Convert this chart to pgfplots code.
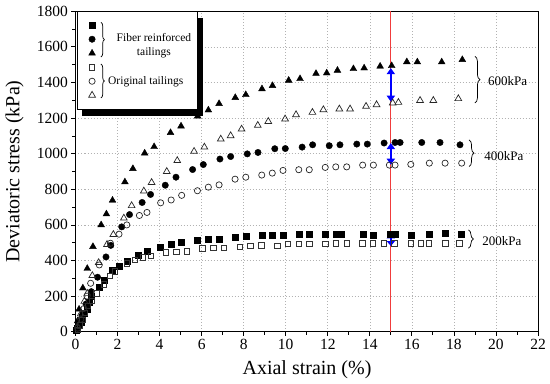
\documentclass[border=0pt]{standalone}
\usepackage{fontspec}
\setmainfont{Liberation Serif}
\usepackage{pgfplots}
\pgfplotsset{compat=1.18}
\usetikzlibrary{decorations.pathreplacing,arrows.meta}
\definecolor{redline}{RGB}{240,60,60}
\begin{document}
\begin{tikzpicture}
\begin{axis}[
 scale only axis, width=462.5pt, height=320.4pt,
 xmin=0,xmax=22,ymin=0,ymax=1800,
 xtick={0,2,...,22}, ytick={0,200,...,1800},
 minor x tick num=1, minor y tick num=1,
 tick align=outside, xtick pos=left, ytick pos=left,
 major tick length=4pt, minor tick length=3pt,
 grid=major, major grid style={gray!60, dash pattern=on 1pt off 2pt, line width=0.6pt},
 axis line style={line width=1pt}, tick style={black, line width=0.8pt},
 ticklabel style={font=\fontsize{15.5}{16}\selectfont},
 /pgf/number format/assume math mode=true,
 /pgf/number format/1000 sep={},
 xlabel={Axial strain (\%)}, ylabel={Deviatoric stress (kPa)},
 label style={font=\fontsize{20}{22}\selectfont},
 xlabel style={at={(axis description cs:0.5005,-0.1195)}, anchor=center},
 ylabel style={at={(axis description cs:-0.132,0.5)}, anchor=center},
 legend style={draw=none, fill=none, at={(axis description cs:0.0281,0.979)}, anchor=north west,
   inner sep=0pt, row sep=0pt, nodes={inner sep=0pt, minimum height=14pt}},
 legend image code/.code={\draw[#1] plot coordinates {(0pt,0pt)};},
]
% legend frame with shadow
\fill[black] ([xshift=5.5pt,yshift=-6pt]axis cs:0.071,1798) rectangle ([xshift=5.5pt,yshift=-6pt]axis cs:5.78,1247);
\draw[fill=white, line width=0.8pt] (axis cs:0.071,1798) rectangle (axis cs:5.78,1247);

\addplot[only marks, mark=square*, mark size=3pt, black] coordinates {
(0.05,8)(0.1,18)(0.18,35)(0.25,55)(0.32,80)(0.4,105)(0.56,128)(0.65,165)(0.75,200)
(1.12,248)(1.37,291)(1.75,343)(2.07,370)(2.45,398)(3.0,431)(3.39,450)(4.05,474)(4.54,489)
(5.05,503)(5.81,516)(6.33,520)(6.83,521)(7.58,533)(8.1,536)(8.86,542)(9.36,542)(9.87,544)
(10.63,548)(11.14,548)(11.9,548)(12.38,550)(12.66,550)(13.68,550)(14.17,544)(14.96,550)
(15.2,550)(15.95,544)(16.83,550)(17.6,553)(18.35,550)};
\addplot[only marks, mark=*, mark size=3.2pt, black] coordinates {
(0.1,15)(0.2,45)(0.35,100)(0.5,155)(0.75,225)(1.05,306)(1.45,420)(1.68,485)(2.2,589)
(2.57,658)(3.17,726)(3.57,771)(4.27,823)(4.78,868)(5.57,911)(6.08,939)(6.87,970)(7.38,984)
(8.17,999)(8.68,1007)(9.48,1028)(9.98,1029)(10.78,1037)(11.28,1050)(12.07,1045)(12.58,1050)
(13.38,1054)(13.88,1054)(14.68,1060)(15.2,1063)(15.44,1063)(16.47,1063)(17.34,1063)(18.29,1050)};
\addplot[only marks, mark=triangle*, mark size=3.9pt, black] coordinates {
(0.05,25)(0.1,60)(0.17,126)(0.35,245)(0.56,355)(0.83,478)(1.22,600)(1.47,661)(1.76,738)
(2.35,841)(2.73,916)(3.29,1003)(3.74,1039)(4.52,1118)(5.02,1155)(5.81,1211)(6.32,1245)
(6.83,1281)(7.6,1315)(8.1,1331)(8.87,1364)(9.37,1382)(10.14,1412)(10.68,1421)(11.44,1450)
(11.95,1453)(12.46,1468)(13.22,1477)(13.73,1481)(14.49,1491)(15.04,1494)(15.76,1516)
(16.26,1515)(17.42,1515)(18.4,1528)};
\addplot[only marks, mark=square, mark size=2.7pt, black!80, mark options={line width=0.7pt}] coordinates {
(0.1,12)(0.2,35)(0.32,65)(0.45,105)(0.6,145)(0.77,172)(1.0,216)(1.35,265)(1.64,313)(1.88,338)
(2.43,385)(2.83,403)(3.2,418)(3.58,426)(4.29,445)(4.79,449)(5.29,452)(6.04,469)(6.56,471)
(7.06,471)(7.82,478)(8.32,484)(8.84,486)(9.6,484)(10.1,493)(10.62,493)(11.12,493)(11.88,493)
(12.39,497)(12.9,497)(13.65,497)(14.15,497)(14.66,497)(15.17,497)(15.95,497)(16.42,497)
(16.8,497)(17.6,497)(18.26,497)};
\addplot[only marks, mark=o, mark size=3.1pt, black!85, mark options={line width=0.7pt}] coordinates {
(0.1,20)(0.25,70)(0.4,130)(0.55,200)(0.72,272)(1.13,375)(1.66,497)(2.07,548)(2.44,600)
(3.04,653)(3.4,670)(4.05,724)(4.55,740)(5.05,766)(5.8,792)(6.32,812)(6.83,825)(7.59,857)
(8.1,868)(8.86,880)(9.36,891)(9.87,906)(10.62,910)(11.12,910)(11.88,923)(12.38,926)
(12.9,926)(13.66,936)(14.17,936)(14.93,936)(15.2,936)(15.95,940)(16.83,947)(17.58,947)(18.37,947)};
\addplot[only marks, mark=triangle, mark size=3.9pt, black!85, mark options={line width=0.7pt}] coordinates {
(0.1,30)(0.25,100)(0.42,170)(0.56,215)(0.8,315)(1.1,388)(1.5,490)(1.8,546)(2.3,638)(2.67,708)
(3.25,790)(3.62,838)(4.34,900)(4.84,961)(5.64,1013)(6.13,1037)(6.91,1082)(7.38,1101)(7.9,1138)
(8.67,1159)(9.17,1181)(9.97,1195)(10.49,1219)(11.27,1232)(11.79,1247)(12.55,1251)(13.06,1251)
(13.82,1266)(14.32,1275)(15.09,1285)(15.36,1288)(16.39,1299)(17.02,1299)(18.21,1309)};
\addlegendentry{}
\addlegendentry{}
\addlegendentry{}
\addlegendentry{}
\addlegendentry{}
\addlegendentry{}

\addplot[forget plot, redline, line width=1.2pt] coordinates {(15,0) (15,1800)};
\addplot[forget plot, blue, line width=1.5pt, {Triangle[width=8pt,length=6pt]}-{Triangle[width=8pt,length=6pt]}] coordinates {(15,1292) (15,1481)};
\addplot[forget plot, blue, line width=1.5pt, {Triangle[width=8pt,length=6pt]}-{Triangle[width=8pt,length=6pt]}] coordinates {(15,938) (15,1060)};
\addplot[forget plot, blue, line width=1.5pt, {Triangle[width=8pt,length=5pt]}-{Triangle[width=8pt,length=5pt]}] coordinates {(15,481) (15,553)};

% legend braces and text
\draw[decorate, decoration={brace, amplitude=3.5pt}, line width=0.7pt] (axis cs:1.21,1738) -- (axis cs:1.21,1543);
\draw[decorate, decoration={brace, amplitude=3.5pt}, line width=0.7pt] (axis cs:1.21,1504) -- (axis cs:1.21,1313);
\node[align=center, font=\fontsize{11.5}{14}\selectfont] at (axis cs:3.73,1605) {Fiber reinforced\\tailings};
\node[font=\fontsize{11.5}{14}\selectfont] at (axis cs:3.34,1406) {Original tailings};

% pressure braces
\draw[decorate, decoration={brace, amplitude=5pt}, line width=0.7pt] (axis cs:19.0,1547) -- (axis cs:19.0,1285);
\draw[decorate, decoration={brace, amplitude=5pt}, line width=0.7pt] (axis cs:18.72,1078) -- (axis cs:18.72,928);
\draw[decorate, decoration={brace, amplitude=5pt}, line width=0.7pt] (axis cs:18.69,572) -- (axis cs:18.69,469);
\node[anchor=west, inner sep=0pt, font=\fontsize{13}{14}\selectfont] at (axis cs:19.62,1406) {600kPa};
\node[anchor=west, inner sep=0pt, font=\fontsize{13}{14}\selectfont] at (axis cs:19.44,988) {400kPa};
\node[anchor=west, inner sep=0pt, font=\fontsize{13}{14}\selectfont] at (axis cs:19.35,512) {200kPa};
\end{axis}
\pgfresetboundingbox
\path ([shift={(-75.5pt,-51.3pt)}]current axis.south west) rectangle ([shift={(12pt,11.3pt)}]current axis.north east);
\end{tikzpicture}
\end{document}
